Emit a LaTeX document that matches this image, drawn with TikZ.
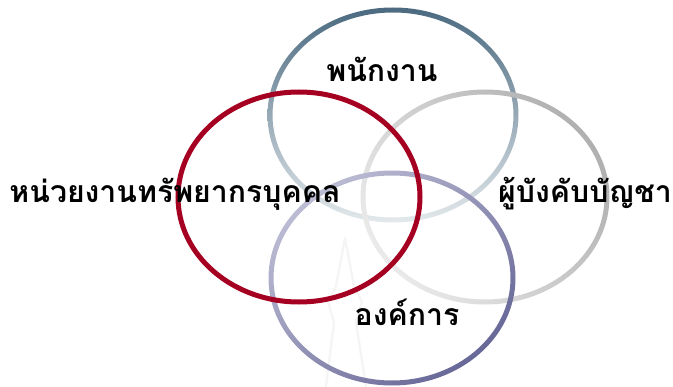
\documentclass[tikz,border=0pt]{standalone}
\usepackage{fontspec}
\usepackage{xcolor}
\newfontfamily\thaifont[Script=Thai]{Loma}
\usetikzlibrary{positioning}

\definecolor{staffdark}{RGB}{75,106,128}
\definecolor{staffmid}{RGB}{163,181,190}
\definecolor{stafflight}{RGB}{227,233,236}
\definecolor{bossdark}{RGB}{176,176,176}
\definecolor{bosslight}{RGB}{234,234,234}
\definecolor{orgdark}{RGB}{104,104,152}
\definecolor{orglight}{RGB}{188,188,212}
\definecolor{hrred}{RGB}{165,0,33}

\begin{document}
\begin{tikzpicture}[
    x=0.025cm, y=-0.025cm,
    label/.style={
        font=\thaifont\bfseries\fontsize{21.5}{24}\selectfont,
        inner sep=0pt,
        anchor=base,
        text=black
    },
    ring/.style={even odd rule},
    solidring/.style={line width=0.125cm, draw=#1}
]
\useasboundingbox (0,0) rectangle (673,387);

% =========================================================
% Faint watermark
% =========================================================
\draw[black!4, line width=0.06cm, line join=round]
    (326,387) -- (334,322) -- (328,302) -- (336,286) -- (345,238)
    -- (354,286) -- (362,302) -- (356,322) -- (366,387);

% =========================================================
% Circle centres
% =========================================================
\coordinate (staff) at (393,115);
\coordinate (boss)  at (485,197);
\coordinate (org)   at (392,278);
\coordinate (hr)    at (299,197);

% Rings
\shade[ring, top color=staffdark, middle color=staffmid, bottom color=stafflight]
    (staff) ellipse [x radius=125.5, y radius=107.5]
    (staff) ellipse [x radius=120.5, y radius=102.5];
\shade[ring, left color=bosslight, right color=bossdark, shading angle=125]
    (boss) ellipse [x radius=124.5, y radius=107.5]
    (boss) ellipse [x radius=119.5, y radius=102.5];
\shade[ring, top color=orglight, bottom color=orgdark, shading angle=40]
    (org) ellipse [x radius=123.5, y radius=107.5]
    (org) ellipse [x radius=118.5, y radius=102.5];
\draw[solidring=hrred]
    (hr) ellipse [x radius=121, y radius=105];

% =========================================================
% Labels
% =========================================================
\node[label] (staff-txt) at (382,82)  {พนักงาน};
\node[label] (hr-txt)    at (175,202) {หน่วยงานทรัพยากรบุคคล};
\node[label] (boss-txt)  at (585,202) {ผู้บังคับบัญชา};
\node[label] (org-txt)   at (407,325) {องค์การ};

\end{tikzpicture}
\end{document}
